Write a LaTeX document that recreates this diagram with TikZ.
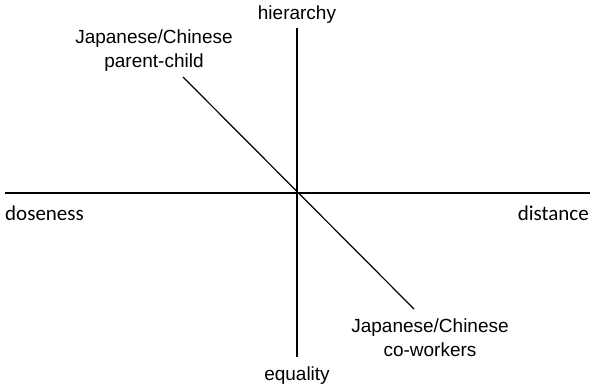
\documentclass[tikz,border=0pt]{standalone}
\usepackage{fontspec}
\setmainfont{Liberation Sans}
\newfontfamily\polefont{Carlito}
\begin{document}
\begin{tikzpicture}[x=1pt,y=-1pt]
    \tikzstyle{axislabel}=[inner sep=0pt, anchor=base, font=\fontsize{19}{23}\selectfont]
    \tikzstyle{polelabel}=[inner sep=0pt, font=\polefont\fontsize{21}{25}\selectfont]
    \tikzstyle{caselabel}=[inner sep=0pt, anchor=base, align=center, font=\fontsize{19}{24}\selectfont]
    \tikzstyle{axisline}=[line width=1.2pt]
    \useasboundingbox (0,0) rectangle (593,385);

    \node[axislabel] (hier) at (297,20) {hierarchy};
    \node[axislabel] (equal) at (297,380) {equality};
    \node[polelabel, anchor=base west] (close) at (5,220) {doseness};
    \node[polelabel, anchor=base east] (dist) at (589,220) {distance};

    % base anchor sits on the last line
    \node[caselabel] (parent) at (154,68) {Japanese/Chinese\\parent-child};
    \node[caselabel] (cowork) at (430,356) {Japanese/Chinese\\co-workers};

    \coordinate (vtop) at (297,28);
    \coordinate (vbot) at (297,357);
    \coordinate (hleft) at (5,193);
    \coordinate (hright) at (590,193);
    \coordinate (dtop) at (183,77);
    \coordinate (dbot) at (414,309);

    \draw[axisline] (vtop) -- (vbot);
    \draw[axisline] (hleft) -- (hright);
    \draw[axisline] (dtop) -- (dbot);
\end{tikzpicture}
\end{document}
